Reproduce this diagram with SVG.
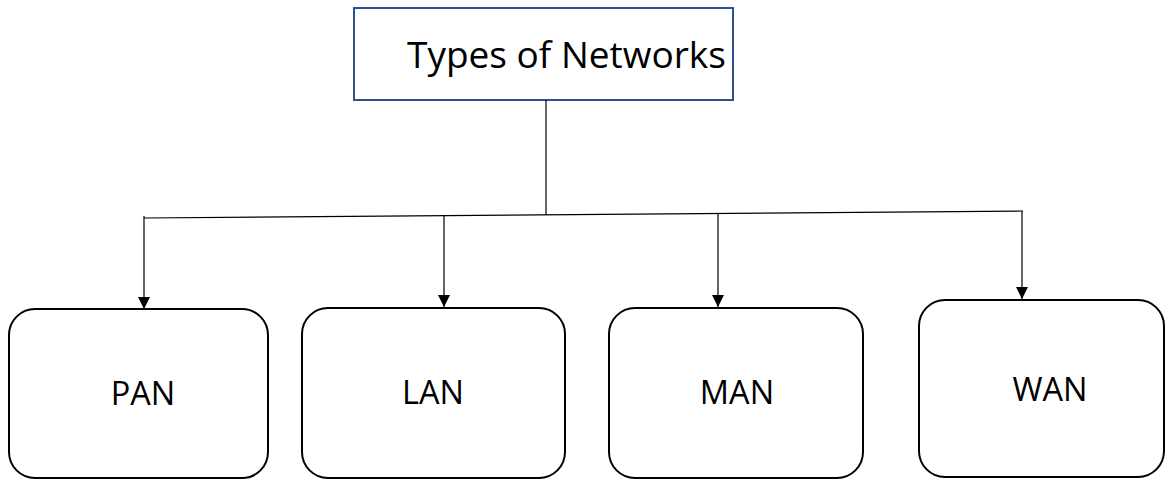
<svg xmlns="http://www.w3.org/2000/svg" width="1166" height="479" viewBox="0 0 1166 479">
<style>
  .t { font-family: "Open Sans", "Liberation Sans", sans-serif; fill: #000; }
  .box { fill: #fff; stroke: #000; stroke-width: 2; }
  .ln { stroke: #000; stroke-width: 1.2; fill: none; }
</style>
<defs>
  <marker id="ah" viewBox="0 0 10 10" refX="10" refY="5" markerWidth="12" markerHeight="13" markerUnits="userSpaceOnUse" orient="auto">
    <path d="M0,0 L10,5 L0,10 z" fill="#000"/>
  </marker>
</defs>
<rect width="1166" height="479" fill="#fff"/>
<g id="title">
  <rect x="354" y="8" width="379" height="92" fill="#fff" stroke="#2F528F" stroke-width="2"/>
  <text class="t" x="407" y="68" font-size="37">Types of Networks</text>
</g>
<g id="connectors">
  <line class="ln" x1="546" y1="100" x2="546" y2="215"/>
  <line class="ln" x1="144" y1="218" x2="1023" y2="211"/>
  <line class="ln" x1="144" y1="216" x2="144" y2="309" marker-end="url(#ah)"/>
  <line class="ln" x1="444" y1="216" x2="444" y2="307" marker-end="url(#ah)"/>
  <line class="ln" x1="718" y1="214" x2="718" y2="307" marker-end="url(#ah)"/>
  <line class="ln" x1="1022" y1="211" x2="1022" y2="299" marker-end="url(#ah)"/>
</g>
<g id="pan">
  <rect class="box" x="9" y="309" width="259" height="169" rx="26"/>
  <text class="t" x="143" y="405" font-size="32.5" text-anchor="middle">PAN</text>
</g>
<g id="lan">
  <rect class="box" x="302" y="308" width="263" height="170" rx="26"/>
  <text class="t" x="433" y="404" font-size="32.5" text-anchor="middle">LAN</text>
</g>
<g id="man">
  <rect class="box" x="609" y="308" width="254" height="170" rx="26"/>
  <text class="t" x="737" y="404" font-size="32.5" text-anchor="middle">MAN</text>
</g>
<g id="wan">
  <rect class="box" x="919" y="300" width="245" height="177" rx="26"/>
  <text class="t" x="1050" y="401" font-size="32.5" text-anchor="middle">WAN</text>
</g>
</svg>
